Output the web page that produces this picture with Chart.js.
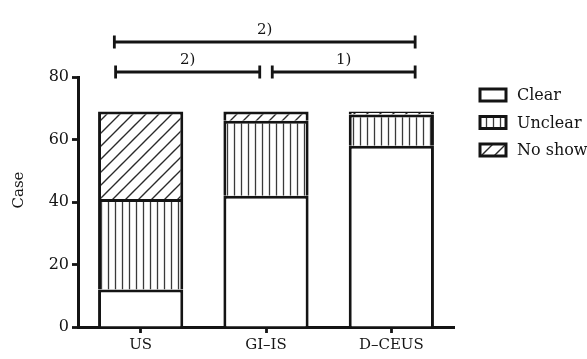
<!DOCTYPE html>
<html>
<head>
<meta charset="utf-8">
<script src="https://cdn.jsdelivr.net/npm/chart.js@4.4.0/dist/chart.umd.min.js"></script>
<style>
  html, body { margin: 0; padding: 0; background: #fff; }
  #wrap { width: 587px; height: 359px; }
</style>
</head>
<body>
<div id="wrap"><canvas id="caseChart" width="587" height="359"></canvas></div>
<script>
// data
var categories = ["US", "GI\u2013IS", "D\u2013CEUS"];
var clearData = [12, 42, 58];
var unclearData = [29, 24, 10];
var noShowData = [28, 3, 1];
var seriesNames = ["Clear", "Unclear", "No show"];
var yTicks = [0, 20, 40, 60, 80];
var yTitle = "Case";

// significance brackets (category index positions, value level)
var bracketFrom = [-0.21, -0.2, 1.05];
var bracketTo = [2.19, 0.95, 2.19];
var bracketLevel = [91.2, 81.6, 81.6];
var bracketLabels = ["2)", "2)", "1)"];

var ink = "#141414";
var serif = "'DejaVu Serif', 'Liberation Serif', serif";

function stripePattern() {
  var c = document.createElement("canvas");
  c.width = 7; c.height = 7;
  var g = c.getContext("2d");
  g.fillStyle = "#fff";
  g.fillRect(0, 0, 7, 7);
  g.strokeStyle = "#3a3a3a";
  g.lineWidth = 1.3;
  g.beginPath();
  g.moveTo(3.5, 0); g.lineTo(3.5, 7);
  g.stroke();
  return g.createPattern(c, "repeat");
}

function hatchPattern() {
  var s = 13;
  var c = document.createElement("canvas");
  c.width = s; c.height = s;
  var g = c.getContext("2d");
  g.fillStyle = "#fff";
  g.fillRect(0, 0, s, s);
  g.strokeStyle = "#2a2a2a";
  g.lineWidth = 1.4;
  g.beginPath();
  g.moveTo(0, s); g.lineTo(s, 0);
  g.moveTo(-2, 2); g.lineTo(2, -2);
  g.moveTo(s - 2, s + 2); g.lineTo(s + 2, s - 2);
  g.stroke();
  return g.createPattern(c, "repeat");
}

var fills = ["#fff", stripePattern(), hatchPattern()];

var bracketPlugin = {
  id: "brackets",
  afterDraw: function (chart) {
    var ctx = chart.ctx;
    var xs = chart.scales.x;
    var ys = chart.scales.y;
    ctx.save();
    ctx.strokeStyle = ink;
    ctx.fillStyle = ink;
    ctx.lineWidth = 2.8;
    for (var i = 0; i < bracketLabels.length; i++) {
      var x1 = xs.getPixelForValue(bracketFrom[i]);
      var x2 = xs.getPixelForValue(bracketTo[i]);
      var y = ys.getPixelForValue(bracketLevel[i]);
      ctx.beginPath();
      ctx.moveTo(x1, y); ctx.lineTo(x2, y);
      ctx.moveTo(x1, y - 6.5); ctx.lineTo(x1, y + 6.5);
      ctx.moveTo(x2, y - 6.5); ctx.lineTo(x2, y + 6.5);
      ctx.stroke();
      ctx.font = "15px " + serif;
      ctx.textAlign = "center";
      ctx.textBaseline = "alphabetic";
      ctx.fillText(bracketLabels[i], (x1 + x2) / 2, y - 8);
    }
    // y axis title, sits a bit above the axis middle
    ctx.translate(19, 190);
    ctx.rotate(-Math.PI / 2);
    ctx.textAlign = "center";
    ctx.textBaseline = "middle";
    ctx.fillText(yTitle, 0, 0);
    ctx.restore();
  }
};

var legendPlugin = {
  id: "sideLegend",
  afterDraw: function (chart) {
    var ctx = chart.ctx;
    var left = 480;
    var top = 95;
    ctx.save();
    ctx.font = "16px " + serif;
    ctx.textBaseline = "middle";
    ctx.textAlign = "left";
    chart.data.datasets.forEach(function (ds, i) {
      var y = top + i * 27.5;
      ctx.fillStyle = ds.backgroundColor;
      ctx.fillRect(left, y - 6, 26, 12);
      ctx.strokeStyle = ink;
      ctx.lineWidth = 3;
      ctx.strokeRect(left, y - 6, 26, 12);
      ctx.fillStyle = ink;
      ctx.fillText(ds.label, left + 37, y + 1);
    });
    ctx.restore();
  }
};

function makeSet(label, values, fill) {
  return {
    label: label,
    data: values,
    backgroundColor: fill,
    borderColor: ink,
    borderWidth: 3,
    borderSkipped: "start",
    barPercentage: 0.68,
    categoryPercentage: 1.0
  };
}

new Chart(document.getElementById("caseChart").getContext("2d"), {
  type: "bar",
  data: {
    labels: categories,
    datasets: [
      makeSet(seriesNames[0], clearData, fills[0]),
      makeSet(seriesNames[1], unclearData, fills[1]),
      makeSet(seriesNames[2], noShowData, fills[2])
    ]
  },
  options: {
    responsive: false,
    animation: false,
    layout: { padding: { top: 77, right: 133, left: 0, bottom: 0 } },
    plugins: {
      legend: { display: false },
      tooltip: { enabled: false }
    },
    scales: {
      x: {
        stacked: true,
        grid: {
          offset: false,
          drawOnChartArea: false,
          drawTicks: true,
          tickLength: 6,
          tickWidth: 2.8,
          tickColor: ink
        },
        border: { display: true, color: ink, width: 3 },
        ticks: {
          color: ink,
          padding: 3,
          font: { family: serif, size: 15 }
        },
        afterFit: function (s) { s.height = 32; }
      },
      y: {
        stacked: true,
        min: 0,
        max: 80,
        afterBuildTicks: function (s) {
          s.ticks = yTicks.map(function (v) { return { value: v }; });
        },
        grid: {
          drawOnChartArea: false,
          drawTicks: true,
          tickLength: 6,
          tickWidth: 2.8,
          tickColor: ink
        },
        border: { display: true, color: ink, width: 3 },
        ticks: {
          color: ink,
          padding: 3,
          font: { family: serif, size: 16 }
        },
        afterFit: function (s) { s.width = 78; }
      }
    }
  },
  plugins: [bracketPlugin, legendPlugin]
});
</script>
</body>
</html>
